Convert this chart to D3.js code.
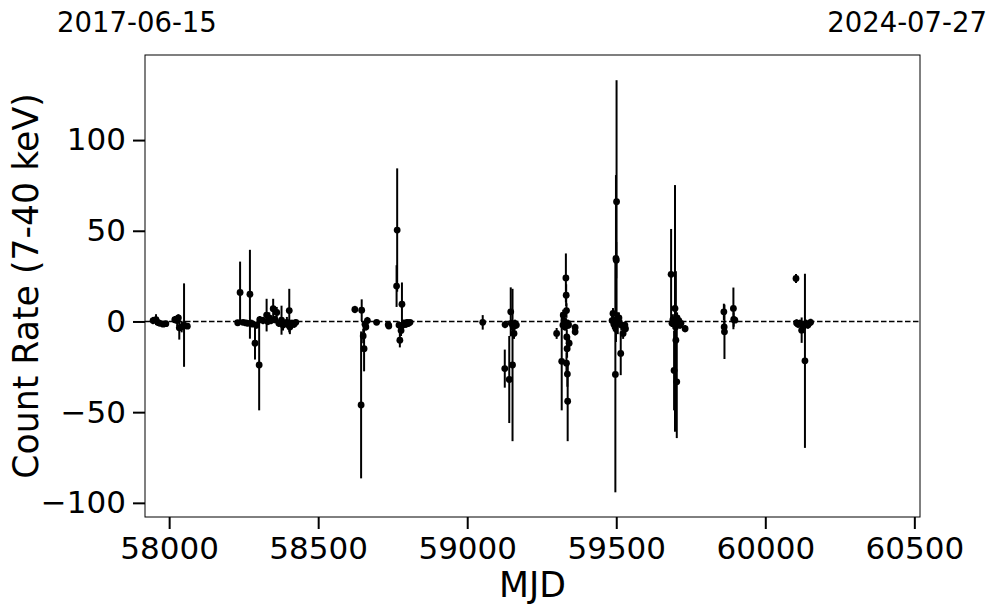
<!DOCTYPE html>
<html><head><meta charset="utf-8">
<script src="https://cdn.jsdelivr.net/npm/d3@7"></script>
<style>body{margin:0;background:#fff}svg{display:block}text{font-family:"DejaVu Sans",sans-serif;fill:#000}</style>
</head><body>
<script>
// Observation times (MJD)
const mjd = [
57946,57956,57962,57969,57980,57989,58019,58027,58031,58034,58042,58050,58061,
58230,58238,58248,58258,58264,58271,58276,58281,58288,58293,58302,58304,58315,58327,58331,58336,58342,58349,58355,58361,58368,58377,58382,58389,58395,58403,58405,58412,58419,58425,
58623,58646,58644,58651,58654,58657,58665,58660,58696,58735,58737,58765,58763,58771,58774,58778,58781,58784,58789,58794,58798,58803,58808,
59052,59127,59126,59141,59146,59147,59152,59154,59157,59160,59165,
59300,59317,59322,59321,59325,59328,59331,59332,59333,59334,59342,59335,59333,59336,59337,59338,59340,59362,59362,
59501,59499,59500,59497,59486,59489,59492,59496,59502,59505,59509,59515,59517,59523,59529,59531,
59684,59687,59690,59694,59697,59699,59700,59703,59704,59707,59710,59714,59717,59731,
59861,59862,59863,59893,59894,59898,
60103,60105,60110,60116,60122,60127,60130,60133,60137,60143,60152
];
// Count rate (7-40 keV)
const rate = [
0.5,1,-0.5,-1,-1.5,-1.2,1,0.5,2,-3.5,-3,-2,-2.6,
-0.7,16,-0.5,-0.8,-1,15,-1,-1.5,-12,-2,-24,1,0.5,3.5,0,2,0.5,7,1,5,-1,0.7,-2,-1,-0.5,6,-3,-1,-1.5,-0.5,
6.6,6.2,-46,-8,-15,-1.5,0.5,-3,-0.5,-1.7,-2.5,50.4,19.5,-2,-10.3,-5,9.5,-2,-1,-1.5,-0.5,-1,-0.5,
-0.5,-1.7,-26,-32,5.3,-1,-24,-3,-6.6,-1,-2,
-6.6,-22,3.5,-2,0.5,-3,24,14.5,6,-8.5,-12,-15,-23,-29,-44,-1,-2,-3.3,-5.7,
66,34.7,33.8,-29.2,0.5,4.4,-1.5,-3,1,-1,2,-17.6,-2,-6.6,-2,-4,
26,-1,1,-27,7.2,-3,-10.3,-33.3,2,-1,0.5,-2,-1,-4,
5.3,-3,-5.7,7.2,1.1,0.7,
23.7,-0.8,-1.5,-1,-4.8,-3,-2,-21.7,-1,-2,-0.5
];
// 1-sigma errors
const err = [
2,3,2,1.5,1.5,1,2,3,2,6.5,3,23,1.5,
1.5,17,1,1.5,1,24.5,2,1.5,9,2,25,2,2,9,2,3,2,5.5,2,3,2,8,3,2,3,12,4,2,2,1.5,
2,6,40.5,4,12.5,2,2,2,1,1.5,1.5,34,11.5,2,4,3,12,3,2,2,1.5,2,1,
4,2,10.5,24,13.5,2,42,3,3,2,2,
3,27,3,2,2,2,13.5,6,4,4,4,5,6,7,22,2,2,2,2,
67,46,10,65,3,3,4,3,4,6,3,12,3,3,2,2,
25,2,3,22,68,3,38,31,3,2,2,2,1.5,2,
4.5,3,15,11.5,4,1.5,
2.5,2,2,2,7,3,2,48,2,2,2
];
const xTicks = [58000,58500,59000,59500,60000,60500];
const yTicks = [-100,-50,0,50,100];
const startLabel = "2017-06-15", endLabel = "2024-07-27";
const xLabel = "MJD", yLabel = "Count Rate (7-40 keV)";

const W = 997, H = 613;
const m = {l:145, r:920, t:55, b:517};
const svg = d3.select("body").append("svg").attr("width",W).attr("height",H);
const x = d3.scaleLinear().domain([57919, 60519]).range([m.l, m.r]);
const y = d3.scaleLinear().domain([-107.8, 146.9]).range([m.b, m.t]);
const fmt = v => (v<0 ? "\u2212" + Math.abs(v) : String(v));

// zero line
svg.append("line").attr("x1",m.l).attr("x2",m.r).attr("y1",y(0)).attr("y2",y(0))
  .attr("stroke","#000").attr("stroke-width",1.5).attr("stroke-dasharray","5.5,2.5");

const data = mjd.map((d,i)=>({t:d, v:rate[i], e:err[i]}));
const g = svg.append("g");
g.selectAll("line.eb").data(data).enter().append("line").attr("class","eb")
  .attr("x1",d=>x(d.t)).attr("x2",d=>x(d.t))
  .attr("y1",d=>y(d.v-d.e)).attr("y2",d=>y(d.v+d.e))
  .attr("stroke","#000").attr("stroke-width",2);
g.selectAll("circle").data(data).enter().append("circle")
  .attr("cx",d=>x(d.t)).attr("cy",d=>y(d.v)).attr("r",3.4).attr("fill","#000");

// frame
svg.append("rect").attr("x",m.l).attr("y",m.t).attr("width",m.r-m.l).attr("height",m.b-m.t)
  .attr("fill","none").attr("stroke","#000").attr("stroke-width",1);

const xa = svg.append("g").attr("transform",`translate(0,${m.b})`)
  .call(d3.axisBottom(x).tickValues(xTicks).tickSize(12).tickPadding(8).tickFormat(d=>String(d)));
const ya = svg.append("g").attr("transform",`translate(${m.l},0)`)
  .call(d3.axisLeft(y).tickValues(yTicks).tickSize(12).tickPadding(7).tickFormat(fmt));
[xa,ya].forEach(a=>{
  a.select(".domain").remove();
  a.selectAll(".tick line").attr("stroke","#000").attr("stroke-width",2);
  a.selectAll(".tick text").attr("font-size",31).attr("font-family","DejaVu Sans");
});

svg.append("text").attr("x",m.l+(m.r-m.l)/2).attr("y",597).attr("text-anchor","middle")
  .attr("font-size",34.7).text(xLabel);
svg.append("text").attr("transform",`translate(38,${(m.t+m.b)/2}) rotate(-90)`)
  .attr("text-anchor","middle").attr("font-size",34.7).text(yLabel);
svg.append("text").attr("x",57).attr("y",32).attr("font-size",27.5).text(startLabel);
svg.append("text").attr("x",987).attr("y",32).attr("text-anchor","end").attr("font-size",27.5).text(endLabel);
</script>
</body></html>
